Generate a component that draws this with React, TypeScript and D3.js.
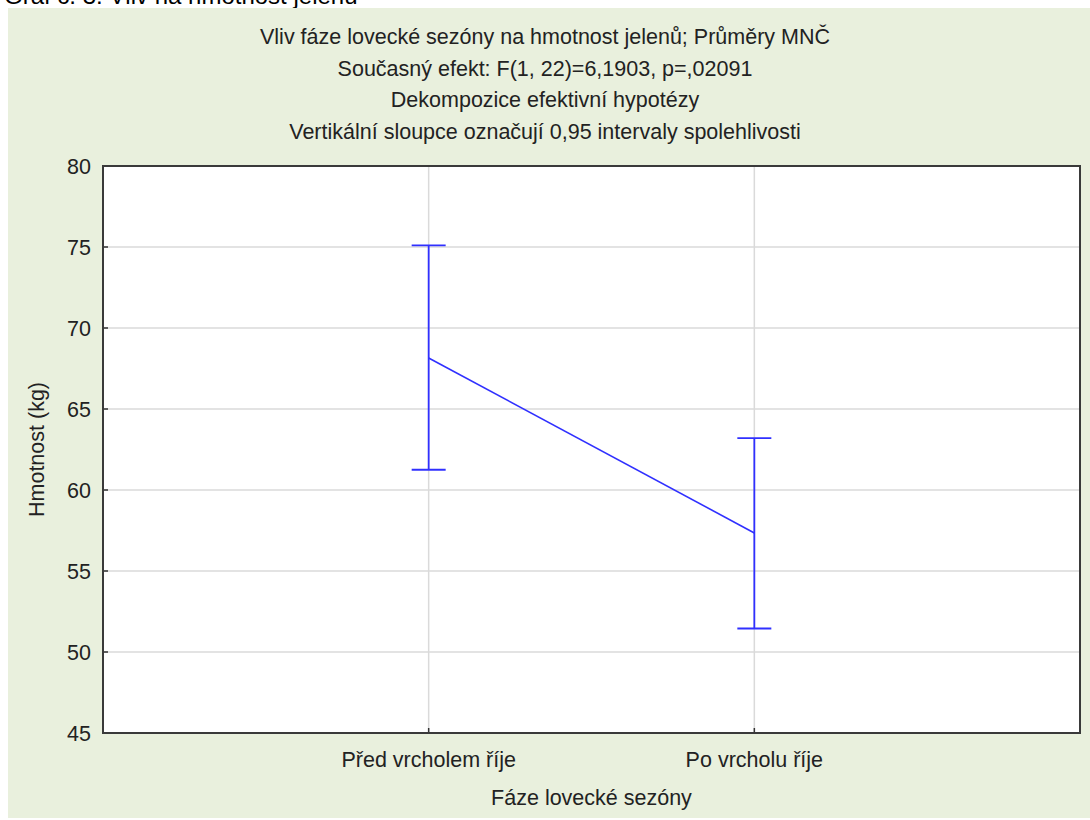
import React from "react";
import * as d3 from "d3";

const categories = ["Před vrcholem říje", "Po vrcholu říje"];
const means = [68.15, 57.35];
const upper = [75.1, 63.2];
const lower = [61.25, 51.45];
const yTicks = [45, 50, 55, 60, 65, 70, 75, 80];
const titleLines = [
  "Vliv fáze lovecké sezóny na hmotnost jelenů; Průměry MNČ",
  "Současný efekt: F(1, 22)=6,1903, p=,02091",
  "Dekompozice efektivní hypotézy",
  "Vertikální sloupce označují 0,95 intervaly spolehlivosti",
];
const captionText = "Graf č. 3: Vliv na hmotnost jelenů";
const yAxisTitle = "Hmotnost (kg)";
const xAxisTitle = "Fáze lovecké sezóny";

const W = 1090;
const H = 820;
const plot = { left: 103, right: 1080, top: 166, bottom: 733 };
const FONT = "Arial, 'Liberation Sans', sans-serif";
const BLUE = "#3030ff";

export default function App() {
  const y = d3.scaleLinear().domain([45, 80]).range([plot.bottom, plot.top]);
  const x = d3
    .scalePoint<string>()
    .domain(categories)
    .range([plot.left, plot.right])
    .padding(1);

  const pts = categories.map((c, i) => ({ c, m: means[i], u: upper[i], l: lower[i] }));
  const line = d3
    .line<{ c: string; m: number }>()
    .x((d) => x(d.c) as number)
    .y((d) => y(d.m));
  const capHalf = 17;

  return (
    <svg
      width={W}
      height={H}
      style={{ position: "absolute", left: 0, top: 0, display: "block" }}
      fontFamily={FONT}
    >
      <rect x={0} y={0} width={W} height={H} fill="#ffffff" />
      <text x={4} y={4} fontSize={24} fill="#000">
        {captionText}
      </text>
      <rect x={8} y={8} width={W - 8} height={H - 10} fill="#e9f0dd" />

      {titleLines.map((t, i) => (
        <text
          key={i}
          x={545}
          y={44 + i * 31.7}
          fontSize={21.5}
          textAnchor="middle"
          fill="#222"
        >
          {t}
        </text>
      ))}

      <rect
        x={plot.left}
        y={plot.top}
        width={plot.right - plot.left}
        height={plot.bottom - plot.top}
        fill="#ffffff"
      />

      {yTicks.map((t) => (
        <line
          key={"gy" + t}
          x1={plot.left}
          x2={plot.right}
          y1={y(t)}
          y2={y(t)}
          stroke="#dadada"
          strokeWidth={1.5}
        />
      ))}
      {categories.map((c) => (
        <line
          key={"gx" + c}
          x1={x(c)}
          x2={x(c)}
          y1={plot.top}
          y2={plot.bottom}
          stroke="#dadada"
          strokeWidth={1.5}
        />
      ))}

      {yTicks.map((t) => (
        <g key={"ty" + t}>
          <line x1={plot.left} x2={plot.left + 5} y1={y(t)} y2={y(t)} stroke="#333" strokeWidth={1.5} />
          <text x={91} y={y(t)} dy="0.36em" fontSize={21.5} textAnchor="end" fill="#222">
            {t}
          </text>
        </g>
      ))}
      {categories.map((c) => (
        <g key={"tx" + c}>
          <line x1={x(c)} x2={x(c)} y1={plot.bottom} y2={plot.bottom - 5} stroke="#333" strokeWidth={1.5} />
          <text x={x(c)} y={767} fontSize={21.5} textAnchor="middle" fill="#222">
            {c}
          </text>
        </g>
      ))}

      <rect
        x={plot.left}
        y={plot.top}
        width={plot.right - plot.left}
        height={plot.bottom - plot.top}
        fill="none"
        stroke="#3a3a3a"
        strokeWidth={2}
      />

      <path d={line(pts) || ""} fill="none" stroke={BLUE} strokeWidth={1.6} />
      {pts.map((p) => {
        const cx = x(p.c) as number;
        return (
          <g key={"eb" + p.c} stroke={BLUE} strokeWidth={1.8}>
            <line x1={cx} x2={cx} y1={y(p.u)} y2={y(p.l)} />
            <line x1={cx - capHalf} x2={cx + capHalf} y1={y(p.u)} y2={y(p.u)} />
            <line x1={cx - capHalf} x2={cx + capHalf} y1={y(p.l)} y2={y(p.l)} />
          </g>
        );
      })}

      <text
        transform={`translate(44, ${(plot.top + plot.bottom) / 2}) rotate(-90)`}
        fontSize={21.5}
        textAnchor="middle"
        fill="#222"
      >
        {yAxisTitle}
      </text>
      <text
        x={(plot.left + plot.right) / 2}
        y={805}
        fontSize={21.5}
        textAnchor="middle"
        fill="#222"
      >
        {xAxisTitle}
      </text>
    </svg>
  );
}
